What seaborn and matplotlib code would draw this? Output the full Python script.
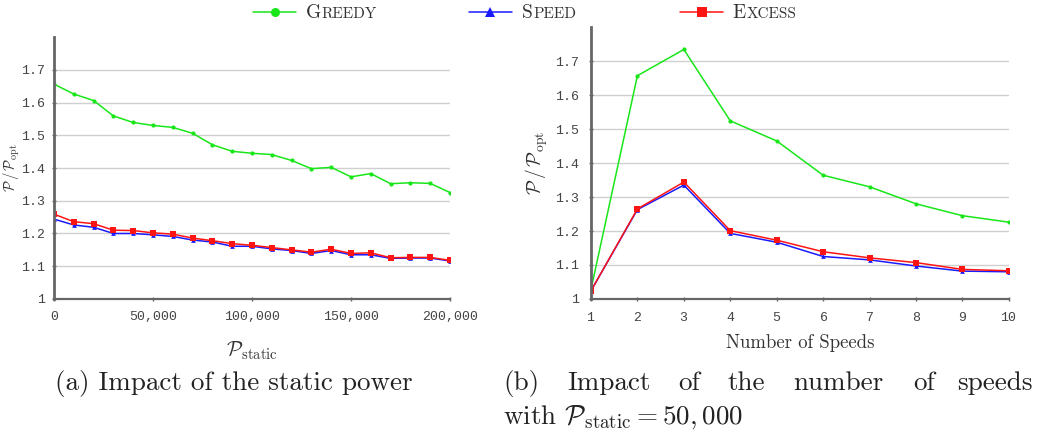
"""Two-panel line chart: ratio to optimal vs static power and vs number of speeds."""

import matplotlib
matplotlib.use("Agg")
import matplotlib.pyplot as plt
import matplotlib.ticker as mticker
from matplotlib.lines import Line2D
import pandas as pd
import seaborn as sns

# panel (a): impact of the static power
static_power = [0, 10000, 20000, 30000, 40000, 50000, 60000, 70000, 80000, 90000, 100000,
                110000, 120000, 130000, 140000, 150000, 160000, 170000, 180000, 190000, 200000]
greedy_a = [1.656, 1.626, 1.606, 1.559, 1.539, 1.530, 1.524, 1.506, 1.471, 1.451, 1.445,
            1.441, 1.423, 1.398, 1.402, 1.373, 1.383, 1.352, 1.355, 1.353, 1.325]
speed_a = [1.244, 1.226, 1.219, 1.200, 1.200, 1.196, 1.191, 1.180, 1.174, 1.161, 1.161,
           1.153, 1.148, 1.139, 1.148, 1.135, 1.135, 1.124, 1.125, 1.125, 1.116]
excess_a = [1.259, 1.236, 1.230, 1.210, 1.209, 1.202, 1.198, 1.186, 1.178, 1.169, 1.164,
            1.157, 1.150, 1.143, 1.152, 1.139, 1.141, 1.126, 1.127, 1.127, 1.118]

# panel (b): impact of the number of speeds
n_speeds = [1, 2, 3, 4, 5, 6, 7, 8, 9, 10]
greedy_b = [1.028, 1.657, 1.734, 1.524, 1.465, 1.364, 1.330, 1.280, 1.245, 1.226]
speed_b = [1.024, 1.263, 1.335, 1.193, 1.167, 1.125, 1.115, 1.097, 1.082, 1.080]
excess_b = [1.024, 1.265, 1.344, 1.201, 1.173, 1.139, 1.121, 1.107, 1.087, 1.083]

algos = ["Greedy", "Speed", "Excess"]
y_ticks = [1, 1.1, 1.2, 1.3, 1.4, 1.5, 1.6, 1.7]
x_ticks_a = [0, 50000, 100000, 150000, 200000]

colors = {"Greedy": "#19e619", "Speed": "#1a1aff", "Excess": "#ff1414"}
markers = {"Greedy": "o", "Speed": "^", "Excess": "s"}
msizes = {"Greedy": 3.0, "Speed": 3.4, "Excess": 3.8}

sns.set_theme(style="white")
plt.rcParams.update({
    "font.family": ["cmr10", "DejaVu Serif"],
    "mathtext.fontset": "cm",
    "axes.formatter.use_mathtext": True,
})

TXT = "#333333"
TICK_FONT = dict(family=["Liberation Mono", "DejaVu Sans Mono"], size=9.5)
YLABEL = r"$\mathcal{P}\,/\,\mathcal{P}_{\mathrm{opt}}$"


def long_frame(x, series):
    rows = []
    for name, vals in zip(algos, series):
        for xv, yv in zip(x, vals):
            rows.append({"x": xv, "ratio": yv, "algo": name})
    return pd.DataFrame(rows)


df_a = long_frame(static_power, [greedy_a, speed_a, excess_a])
df_b = long_frame(n_speeds, [greedy_b, speed_b, excess_b])


def style_axes(ax, pad=7):
    ax.set_ylim(1, 1.8)
    ax.set_yticks(y_ticks)
    ax.yaxis.set_major_formatter(mticker.FuncFormatter(lambda v, _: f"{v:g}"))
    for yv in y_ticks[1:]:
        ax.axhline(yv, color="#d0d0d0", lw=1.0, zorder=0)
    for side in ("top", "right"):
        ax.spines[side].set_visible(False)
    ax.spines["left"].set_color("#666666")
    ax.spines["left"].set_linewidth(2.0)
    ax.spines["bottom"].set_color("#666666")
    ax.spines["bottom"].set_linewidth(1.6)
    ax.tick_params(axis="both", which="major", colors="#666666",
                   labelcolor="#444444", length=3, width=1, direction="inout",
                   bottom=True, left=True, pad=7)
    ax.tick_params(axis="y", pad=pad)
    for lab in ax.get_xticklabels() + ax.get_yticklabels():
        lab.set_fontproperties(TICK_FONT)


def draw(ax, df):
    for name in algos:
        sub = df[df["algo"] == name]
        sns.lineplot(data=sub, x="x", y="ratio", ax=ax, color=colors[name],
                     marker=markers[name], markersize=msizes[name],
                     markeredgewidth=0, linewidth=1.1, legend=False)


fig = plt.figure(figsize=(10.41, 4.33), dpi=100)
ax_a = fig.add_axes([54 / 1041, 0.3095, 396 / 1041, 0.605])
ax_b = fig.add_axes([0.5677, 0.3095, 0.4015, 0.628])

draw(ax_a, df_a)
ax_a.set_xlim(0, 200000)
ax_a.set_xticks(x_ticks_a)
ax_a.xaxis.set_major_formatter(mticker.FuncFormatter(lambda v, _: f"{int(v):,}"))
style_axes(ax_a, pad=5)
ax_a.set_xlabel(r"$\mathcal{P}_{\mathrm{static}}$", fontsize=15, color=TXT)
ax_a.set_ylabel(YLABEL, fontsize=10.5, color=TXT, va="center")
ax_a.yaxis.set_label_coords(-0.107, 0.5)
ax_a.xaxis.set_label_coords(0.5, -0.155)

draw(ax_b, df_b)
ax_b.set_xlim(1, 10)
ax_b.set_xticks(n_speeds)
style_axes(ax_b)
ax_b.set_xlabel("Number of Speeds", fontsize=13.5, color=TXT)
ax_b.set_ylabel(YLABEL, fontsize=14, color=TXT, va="center")
ax_b.yaxis.set_label_coords(-0.129, 0.5)
ax_b.xaxis.set_label_coords(0.5, -0.13)

# legend in small caps: big initial from the legend, rest of the word added next to it
handles = [Line2D([0], [0], color=colors[n], marker=markers[n], markersize=msizes[n] + 3.5,
                  markeredgewidth=0, linewidth=1.1) for n in algos]
leg = fig.legend(handles, [n[0] for n in algos], loc="upper center",
                 bbox_to_anchor=(0.48, 1.03), ncol=3, frameon=False, fontsize=14,
                 handlelength=2.2, columnspacing=7.6, handletextpad=0.5)
for txt, name in zip(leg.get_texts(), algos):
    txt.set_color(TXT)
    fig.add_artist(plt.Annotation(name[1:].upper(), xy=(1, 0), xycoords=txt,
                                  xytext=(0.5, 0.8), textcoords="offset points",
                                  fontsize=11, color=TXT, va="bottom", ha="left", zorder=6))

CAP = dict(fontsize=19.5, color="#222222", va="baseline")
fig.text(55 / 1041, 1 - 390 / 433, "(a) Impact of the static power", **CAP)
words_b = ["(b)", "Impact", "of", "the", "number", "of", "speeds"]
word_x = [503, 567, 678, 728, 793, 913, 957]
for w, xp in zip(words_b, word_x):
    fig.text(xp / 1041, 1 - 390 / 433, w, **CAP)
fig.text(503 / 1041, 1 - 424 / 433, r"with $\mathcal{P}_{\mathrm{static}} = 50,000$", **CAP)

fig.canvas.draw()
fig.savefig("out.png", dpi=100)
plt.close(fig)
